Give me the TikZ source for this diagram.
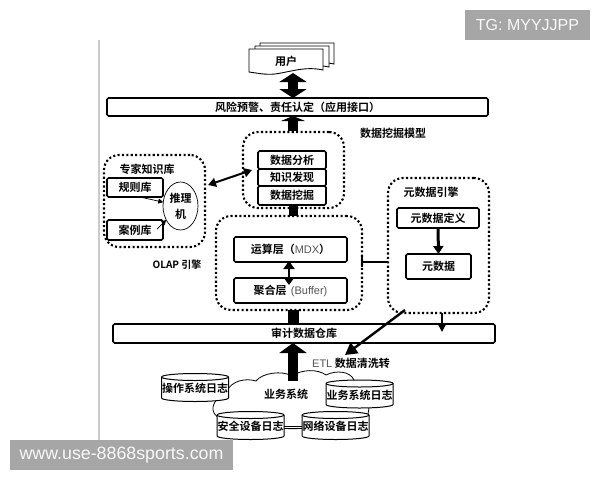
\documentclass[tikz,border=0pt]{standalone}
\usepackage{fontspec}
\setmainfont{Noto Sans CJK SC}[BoldFont={Noto Sans CJK SC Bold}]
\newfontfamily\latinfont{Liberation Sans}
\usetikzlibrary{arrows.meta,shapes.geometric}
\definecolor{mark}{HTML}{A6A6A6}
\definecolor{softgray}{HTML}{555555}
\tikzset{
  x=1pt,y=-1pt,
  every node/.style={inner sep=0pt,outer sep=0pt,font=\fontsize{11}{12}\selectfont\bfseries},
  solidbox/.style={draw=black,line width=1.7pt,rounded corners=1.5pt,fill=white,align=center},
  dotbox/.style={draw=black,line width=2.1pt,dash pattern=on 2.1pt off 2.3pt,rounded corners=15pt},
  canline/.style={draw=black,line width=1pt,fill=white},
  label/.style={font=\fontsize{11}{12}\selectfont\bfseries,text=black},
  bigtwo/.style={line width=10pt,{Triangle[width=27pt,length=9pt]}-{Triangle[width=27pt,length=9pt]}},
  bigup/.style={line width=10pt,-{Triangle[width=27pt,length=10pt]}},
  heavytwo/.style={line width=2pt,{Triangle[width=9pt,length=8pt]}-{Triangle[width=9pt,length=8pt]}},
  fine/.style={line width=.7pt,-{Triangle[width=5pt,length=5pt]}},
  stamp/.style={fill=mark,text=white!92!mark,font=\latinfont\mdseries}
}
% name, centre x, centre y, text
\newcommand{\logcan}[4]{%
  \draw[canline] (#2-33.5,#3-10.5) -- (#2-33.5,#3+10.5) arc[start angle=180,end angle=360,x radius=33.5pt,y radius=3.5pt]
     -- (#2+33.5,#3-10.5) arc[start angle=0,end angle=180,x radius=33.5pt,y radius=3.5pt] -- cycle;
  \draw[draw=black,line width=1pt] (#2-33.5,#3-10.5) arc[start angle=180,end angle=360,x radius=33.5pt,y radius=3.5pt];
  \node[minimum width=67pt,minimum height=28pt] (#1) at (#2,#3+1) {#4};
}
\begin{document}
\begin{tikzpicture}
\useasboundingbox (0,0) rectangle (600,480);
\fill[white] (0,0) rectangle (600,480);
\coordinate (railtop) at (99,40);
\coordinate (railend) at (99,440);
\draw[mark!60,line width=1.3pt] (railtop) -- (railend);

% user document stack
\foreach \dx/\dy in {11/-6,6/-3,0/0}{
  \draw[black,line width=.9pt,fill=white,shift={(\dx,\dy)}]
    (249,49) -- (323,49) -- (323,70) .. controls (305,66) and (290,72) .. (275,74)
    .. controls (265,75) and (257,73) .. (249,72) -- cycle;
}
\node (user) at (286,61) [minimum width=74pt,minimum height=24pt] {用户};

% bars
\node[solidbox,minimum width=381pt,minimum height=18pt] (risk) at (297.5,107) {风险预警、责任认定（应用接口）};
\node[solidbox,minimum width=382pt,minimum height=19pt] (audit) at (304,333.5) {审计数据仓库};

% dotted groups
\node[dotbox,minimum width=101pt,minimum height=76pt] (mining) at (293.5,170) {};
\node[dotbox,minimum width=101pt,minimum height=92pt] (expert) at (154.5,201) {};
\node[dotbox,minimum width=146pt,minimum height=94pt] (olap) at (289,263) {};
\node[dotbox,minimum width=101pt,minimum height=135pt] (meta) at (438.5,245.5) {};

% mining stack
\node[solidbox,minimum width=68pt,minimum height=18pt] (analysis) at (292,160) {数据分析};
\node[solidbox,minimum width=68pt,minimum height=17pt] (discovery) at (292,177.5) {知识发现};
\node[solidbox,minimum width=68pt,minimum height=19pt] (dig) at (292,195.5) {数据挖掘};

% expert contents
\node[solidbox,minimum width=56pt,minimum height=19pt] (rules) at (135,187.5) {规则库};
\node[solidbox,minimum width=56pt,minimum height=20pt] (cases) at (135,230) {案例库};
\node[draw=black,line width=.7pt,fill=white,ellipse,minimum width=35pt,minimum height=48pt,align=center] (infer) at (180.5,206) {推理\\[4pt]机};
\coordinate (casetail) at (157,229);

% olap contents
\node[solidbox,minimum width=113pt,minimum height=25pt] (calc) at (290.5,249.5) {运算层（{\latinfont\mdseries\color{softgray} MDX}）};
\node[solidbox,minimum width=113pt,minimum height=25pt] (agg) at (290.5,290.5) {聚合层 {\latinfont\mdseries\color{softgray}\,(Buffer)}};

% meta contents
\node[solidbox,minimum width=82pt,minimum height=20pt] (metadef) at (438,218) {元数据定义};
\node[solidbox,minimum width=65pt,minimum height=25pt] (metadata) at (438.5,266.5) {元数据};

% labels
\node[label] (tminer) at (393,133) {数据挖掘模型};
\node[label] (texpert) at (147,169) {专家知识库};
\node[label] (tmeta) at (431,192) {元数据引擎};
\node[label,font=\fontsize{10}{12}\selectfont\bfseries] (tolap) at (177,265) {OLAP 引擎};
\node[label] (tetl) at (351,363) {{\latinfont\mdseries\color{softgray}ETL} 数据清洗转};

% source systems
\draw[black,line width=.8pt,fill=white]
  (226,392) .. controls (232,380) and (246,378) .. (256,381)
  .. controls (262,373) and (282,370) .. (292,376)
  .. controls (302,369) and (318,369) .. (326,375)
  .. controls (336,370) and (350,371) .. (354,380)
  .. controls (362,384) and (372,402) .. (368,414)
  .. controls (364,424) and (350,426) .. (340,424)
  .. controls (320,430) and (270,430) .. (250,425)
  .. controls (236,426) and (214,420) .. (213,410)
  .. controls (212,402) and (220,396) .. (226,392) -- cycle;
\node (biz) at (286,394) {业务系统};
\logcan{oslog}{195}{387.5}{操作系统日志}
\logcan{bizlog}{359.5}{394}{业务系统日志}
\logcan{seclog}{250.5}{425.5}{安全设备日志}
\logcan{netlog}{335.5}{425.5}{网络设备日志}

% connectors
\path (user.south -| risk.north) ++(-4.5,0) coordinate (ua);
\draw[bigtwo] (ua) -- (ua |- risk.north);
\path (risk.south -| ua) ++(0,15) coordinate (ub);
\draw[line width=10pt,-{Triangle[width=24pt,length=5pt]}] (ub) -- (ub |- risk.south);
\draw[line width=9pt] (dig.south -| ua) -- (ua |- olap.north);
\draw[line width=11pt] (olap.south -| ua) -- (ua |- audit.north);
\path (ua |- biz.north) ++(0,-8) coordinate (uc);
\draw[bigup] (uc) -- (uc |- audit.south);
\path (expert.east) ++(3,-16) coordinate (ea);
\coordinate (eb) at (252,170);
\draw[heavytwo] (ea) -- (eb);
\draw[fine] ([xshift=5pt]rules.south) -- (infer);
\draw[fine] (casetail) -- (infer);
\coordinate (ox) at (289,0);
\draw[line width=2.4pt,{Triangle[width=11pt,length=8pt]}-{Triangle[width=11pt,length=8pt]}] ([yshift=1pt]calc.south -| ox) -- ([yshift=-7pt]agg.north -| ox);
\path (olap.east) ++(0,-1) coordinate (oe);
\draw[line width=2pt] (oe) -- (oe -| meta.west);
\draw[line width=1.6pt] ([yshift=-5pt]oe) -- ([yshift=5pt]oe);
\draw[line width=3pt,-{Triangle[width=10pt,length=8pt]}] (metadef.south) -- (metadata.north);
\coordinate (ma) at (442,313);
\coordinate (mb) at (442,332);
\draw[line width=1.8pt,-{Triangle[width=9pt,length=9pt]}] (ma) -- (mb);
\coordinate (da) at (405,310);
\coordinate (db) at (345,355);
\draw[line width=2.4pt,-{Triangle[width=13pt,length=12pt]}] (da) -- (db);
\draw[line width=.8pt] (seclog.east) -- (netlog.west);

% watermarks
\node[stamp,font=\fontsize{17.8}{20}\selectfont\latinfont\mdseries,minimum width=223pt,minimum height=30pt] (wm1) at (121.5,455) {www.use-8868sports.com};
\node[stamp,font=\fontsize{16}{18}\selectfont\latinfont\mdseries,minimum width=125pt,minimum height=30pt] (wm2) at (527.5,25) {TG: MYYJJPP};
\end{tikzpicture}
\end{document}
